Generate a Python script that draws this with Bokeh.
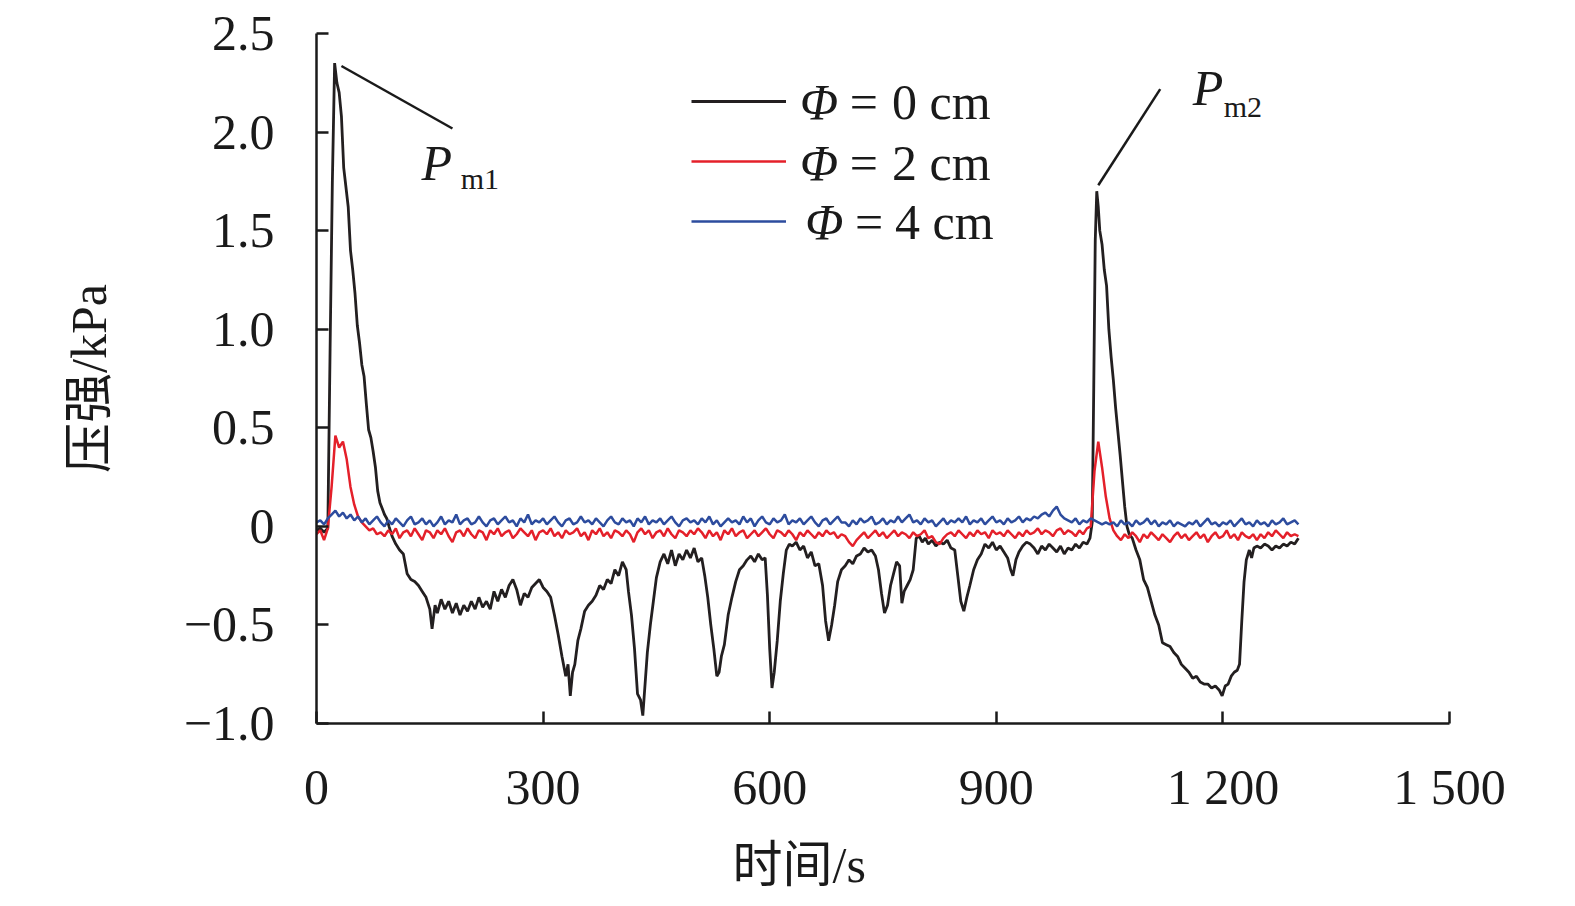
import math
from bokeh.plotting import figure
from bokeh.models import Range1d, FixedTicker, Label, Arrow, Legend, LegendItem, Title
from bokeh.embed import file_html
from bokeh.resources import INLINE

# ---------------- data ----------------
x_ticks = [0, 300, 600, 900, 1200, 1500]
x_tick_labels = ["0", "300", "600", "900", "1 200", "1 500"]
y_ticks = [-1.0, -0.5, 0.0, 0.5, 1.0, 1.5, 2.0, 2.5]
y_tick_labels = ["\u22121.0", "\u22120.5", "0", "0.5", "1.0", "1.5", "2.0", "2.5"]

black_t = [
    0, 5, 10, 15, 18, 21, 24, 27, 30, 33,
    36, 39, 42, 45, 48, 51, 54, 57, 60, 63,
    66, 69, 72, 75, 78, 81, 84, 87, 90, 93,
    96, 100, 105, 110, 115, 120, 125, 130, 135, 140,
    145, 150, 153, 157, 160, 165, 170, 175, 180, 185,
    190, 195, 200, 205, 210, 215, 220, 225, 230, 235,
    240, 245, 250, 255, 260, 265, 270, 275, 280, 285,
    290, 295, 300, 305, 310, 315, 320, 325, 330, 333,
    336, 339, 342, 346, 350, 355, 360, 365, 370, 375,
    380, 385, 390, 395, 400, 405, 410, 413, 417, 421,
    425, 429, 432, 435, 438, 442, 446, 450, 455, 460,
    465, 470, 475, 480, 485, 490, 495, 500, 505, 510,
    514, 518, 522, 526, 530, 533, 536, 540, 545, 550,
    555, 560, 565, 570, 575, 580, 585, 590, 594, 597,
    600, 603, 606, 610, 614, 618, 622, 626, 630, 635,
    640, 645, 650, 655, 660, 665, 670, 674, 678, 682,
    686, 690, 695, 700, 705, 710, 715, 720, 725, 730,
    735, 740, 744, 748, 752, 756, 760, 764, 768, 772,
    775, 778, 782, 786, 790, 794, 798, 802, 806, 810,
    815, 820, 825, 830, 835, 840, 845, 849, 853, 857,
    861, 865, 870, 875, 880, 885, 890, 895, 900, 905,
    910, 915, 919, 922, 926, 930, 935, 940, 945, 950,
    955, 960, 965, 970, 975, 980, 985, 990, 995, 1000,
    1005, 1010, 1015, 1020, 1024, 1027, 1029, 1031, 1033, 1035,
    1037, 1040, 1043, 1046, 1049, 1052, 1055, 1058, 1061, 1064,
    1067, 1070, 1073, 1076, 1080, 1085, 1090, 1095, 1100, 1105,
    1110, 1115, 1120, 1125, 1130, 1135, 1140, 1145, 1150, 1155,
    1160, 1165, 1170, 1175, 1180, 1185, 1190, 1195, 1199, 1203,
    1207, 1211, 1215, 1219, 1222, 1225, 1228, 1231, 1235, 1238,
    1241, 1245, 1250, 1255, 1260, 1265, 1270, 1275, 1280, 1285,
    1290, 1295, 1300,
]
black_v = [
    -0.02, -0.01, -0.03, -0.01, 0.90, 1.75, 2.35, 2.25, 2.20, 2.08,
    1.82, 1.72, 1.62, 1.40, 1.30, 1.18, 1.02, 0.93, 0.82, 0.76,
    0.62, 0.49, 0.45, 0.38, 0.30, 0.18, 0.12, 0.09, 0.06, 0.04,
    0.00, -0.05, -0.09, -0.12, -0.14, -0.24, -0.27, -0.28, -0.30, -0.33,
    -0.36, -0.42, -0.52, -0.40, -0.44, -0.37, -0.42, -0.38, -0.44, -0.39,
    -0.45, -0.40, -0.43, -0.38, -0.42, -0.36, -0.41, -0.38, -0.42, -0.33,
    -0.38, -0.32, -0.36, -0.30, -0.27, -0.32, -0.40, -0.34, -0.36, -0.31,
    -0.29, -0.27, -0.31, -0.33, -0.36, -0.45, -0.55, -0.66, -0.76, -0.70,
    -0.86, -0.74, -0.70, -0.58, -0.52, -0.43, -0.40, -0.38, -0.35, -0.30,
    -0.32, -0.27, -0.29, -0.22, -0.25, -0.18, -0.22, -0.33, -0.45, -0.62,
    -0.85, -0.88, -0.96, -0.80, -0.64, -0.50, -0.38, -0.26, -0.18, -0.14,
    -0.19, -0.12, -0.20, -0.14, -0.17, -0.12, -0.16, -0.11, -0.18, -0.16,
    -0.25, -0.36, -0.50, -0.62, -0.76, -0.74, -0.66, -0.60, -0.45, -0.36,
    -0.28, -0.22, -0.20, -0.17, -0.15, -0.18, -0.14, -0.17, -0.16, -0.35,
    -0.62, -0.82, -0.74, -0.58, -0.38, -0.24, -0.12, -0.09, -0.10, -0.08,
    -0.12, -0.10, -0.16, -0.13, -0.20, -0.19, -0.30, -0.48, -0.58, -0.50,
    -0.40, -0.28, -0.22, -0.20, -0.17, -0.19, -0.15, -0.14, -0.11, -0.13,
    -0.12, -0.15, -0.22, -0.34, -0.44, -0.40, -0.30, -0.24, -0.18, -0.20,
    -0.39, -0.33, -0.30, -0.27, -0.22, -0.06, -0.05, -0.08, -0.06, -0.09,
    -0.07, -0.10, -0.08, -0.09, -0.07, -0.11, -0.12, -0.25, -0.38, -0.43,
    -0.36, -0.30, -0.22, -0.17, -0.14, -0.09, -0.11, -0.08, -0.12, -0.10,
    -0.13, -0.16, -0.22, -0.25, -0.17, -0.13, -0.10, -0.08, -0.09, -0.11,
    -0.14, -0.10, -0.12, -0.09, -0.11, -0.13, -0.10, -0.14, -0.11, -0.12,
    -0.09, -0.11, -0.08, -0.09, -0.06, 0.02, 0.70, 1.45, 1.70, 1.62,
    1.50, 1.43, 1.30, 1.22, 1.00, 0.86, 0.74, 0.60, 0.48, 0.36,
    0.23, 0.10, 0.00, -0.04, -0.06, -0.12, -0.17, -0.27, -0.31, -0.38,
    -0.45, -0.50, -0.59, -0.60, -0.61, -0.64, -0.66, -0.70, -0.72, -0.74,
    -0.77, -0.76, -0.79, -0.80, -0.80, -0.82, -0.81, -0.83, -0.86, -0.81,
    -0.80, -0.76, -0.74, -0.73, -0.70, -0.48, -0.28, -0.17, -0.12, -0.16,
    -0.11, -0.10, -0.11, -0.09, -0.10, -0.12, -0.10, -0.11, -0.09, -0.10,
    -0.08, -0.09, -0.06,
]

# red (Phi = 2 cm) and blue (Phi = 4 cm): sampled every 5 s from 0 to 1300 s
red_v = [
    -0.04, -0.02, -0.07, -0.01, 0.20, 0.46, 0.40, 0.43, 0.34, 0.20,
    0.11, 0.05, 0.02, 0.00, -0.02, -0.01, -0.04, -0.03, -0.05, -0.02,
    -0.04, -0.01, -0.06, -0.03, -0.02, -0.05, -0.01, -0.04, -0.07, -0.02,
    -0.03, -0.06, -0.02, -0.04, -0.01, -0.05, -0.08, -0.03, -0.02, -0.05,
    -0.01, -0.04, -0.06, -0.02, -0.03, -0.07, -0.02, -0.04, -0.01, -0.05,
    -0.03, -0.02, -0.06, -0.04, -0.01, -0.03, -0.05, -0.02, -0.07, -0.03,
    -0.02, -0.04, -0.01, -0.05, -0.03, -0.06, -0.02, -0.04, -0.03, -0.01,
    -0.05, -0.03, -0.07, -0.02, -0.04, -0.01, -0.05, -0.03, -0.06, -0.02,
    -0.03, -0.05, -0.02, -0.04, -0.08, -0.03, -0.01, -0.04, -0.02, -0.06,
    -0.03, -0.02, -0.05, -0.01, -0.04, -0.06, -0.02, -0.03, -0.05, -0.02,
    -0.04, -0.01, -0.03, -0.06, -0.02, -0.05, -0.03, -0.07, -0.02, -0.04,
    -0.01, -0.05, -0.03, -0.02, -0.06, -0.04, -0.02, -0.05, -0.03, -0.01,
    -0.04, -0.06, -0.02, -0.03, -0.05, -0.02, -0.04, -0.07, -0.03, -0.05,
    -0.02, -0.04, -0.06, -0.03, -0.05, -0.02, -0.04, -0.03, -0.06, -0.04,
    -0.05, -0.08, -0.10, -0.07, -0.05, -0.03, -0.06, -0.04, -0.02, -0.05,
    -0.03, -0.06, -0.04, -0.02, -0.05, -0.03, -0.04, -0.06, -0.03, -0.05,
    -0.04, -0.02, -0.06, -0.05, -0.08, -0.09, -0.06, -0.04, -0.03, -0.05,
    -0.02, -0.04, -0.06, -0.03, -0.05, -0.02, -0.04, -0.03, -0.06, -0.02,
    -0.04, -0.03, -0.05, -0.02, -0.04, -0.06, -0.03, -0.05, -0.02, -0.04,
    -0.03, -0.01, -0.04, -0.02, -0.03, -0.05, -0.02, -0.01, -0.04, -0.02,
    -0.03, -0.05, -0.02, -0.04, -0.01, 0.00, 0.28, 0.43, 0.30, 0.15,
    0.04, -0.02, -0.05, -0.07, -0.04, -0.06, -0.03, -0.05, -0.08, -0.04,
    -0.06, -0.03, -0.05, -0.07, -0.04, -0.06, -0.08, -0.05, -0.03, -0.06,
    -0.04, -0.07, -0.05, -0.03, -0.06, -0.04, -0.08, -0.05, -0.03, -0.06,
    -0.05, -0.02, -0.06, -0.04, -0.07, -0.03, -0.05, -0.06, -0.04, -0.07,
    -0.04, -0.06, -0.03, -0.05, -0.02, -0.04, -0.06, -0.03, -0.05, -0.04,
    -0.05,
]
blue_v = [
    0.02, 0.03, 0.01, 0.04, 0.06, 0.08, 0.05, 0.07, 0.04, 0.06,
    0.03, 0.05, 0.02, 0.04, 0.01, 0.03, 0.05, 0.02, 0.00, 0.03,
    0.01, 0.04, 0.02, 0.00, 0.03, 0.05, 0.01, 0.02, 0.04, 0.01,
    0.03, 0.00, 0.02, 0.05, 0.01, 0.03, 0.02, 0.06, 0.01, 0.03,
    0.04, 0.01, 0.02, 0.05, 0.02, 0.00, 0.03, 0.04, 0.01, 0.03,
    0.05, 0.02, 0.03, 0.00, 0.04, 0.02, 0.06, 0.01, 0.03, 0.02,
    0.04, 0.01, 0.03, 0.05, 0.02, 0.00, 0.03, 0.04, 0.01, 0.02,
    0.05, 0.02, 0.03, 0.01, 0.04, 0.02, 0.00, 0.03, 0.05, 0.02,
    0.01, 0.04, 0.02, 0.03, 0.00, 0.04, 0.02, 0.05, 0.01, 0.03,
    0.02, 0.04, 0.01, 0.03, 0.05, 0.02, 0.00, 0.03, 0.04, 0.02,
    0.03, 0.01, 0.04, 0.02, 0.05, 0.01, 0.03, 0.00, 0.02, 0.04,
    0.02, 0.03, 0.01, 0.05, 0.02, 0.04, 0.00, 0.03, 0.05, 0.02,
    0.01, 0.04, 0.02, 0.03, 0.06, 0.01, 0.03, 0.02, 0.04, 0.01,
    0.03, 0.05, 0.02, 0.00, 0.03, 0.04, 0.01, 0.03, 0.05, 0.02,
    0.02, 0.00, 0.03, 0.01, 0.04, 0.02, 0.03, 0.05, 0.01, 0.02,
    0.04, 0.01, 0.03, 0.02, 0.05, 0.02, 0.04, 0.06, 0.02, 0.03,
    0.01, 0.04, 0.02, 0.03, 0.00, 0.02, 0.04, 0.01, 0.03, 0.02,
    0.04, 0.02, 0.05, 0.01, 0.03, 0.02, 0.04, 0.01, 0.03, 0.05,
    0.02, 0.03, 0.01, 0.04, 0.02, 0.03, 0.05, 0.02, 0.04, 0.03,
    0.05, 0.04, 0.06, 0.07, 0.05, 0.08, 0.10, 0.06, 0.04, 0.03,
    0.02, 0.04, 0.01, 0.03, 0.02, 0.04, 0.03, 0.02, 0.01, 0.02,
    0.01, 0.02, 0.00, 0.03, 0.01, 0.02, 0.00, 0.03, 0.01, 0.02,
    0.04, 0.01, 0.03, 0.00, 0.02, 0.01, 0.03, 0.00, 0.02, 0.01,
    0.00, 0.02, 0.01, 0.03, 0.00, 0.02, 0.04, 0.01, 0.02, 0.00,
    0.02, 0.01, 0.03, 0.00, 0.02, 0.04, 0.01, 0.02, 0.00, 0.03,
    0.01, 0.02, 0.00, 0.03, 0.01, 0.02, 0.04, 0.01, 0.02, 0.03,
    0.01,
]
sample_step = 5
red_t = [i * sample_step for i in range(len(red_v))]
blue_t = [i * sample_step for i in range(len(blue_v))]

# ---------------- styling ----------------
SERIF = "Liberation Serif, Noto Sans CJK SC"
CJK = "Liberation Serif, Noto Sans CJK SC"
INK = "#1a1a1a"
BLACK = "#231f20"
RED = "#e4202a"
BLUE = "#2d4c9e"

p = figure(
    frame_width=1133, frame_height=690,
    min_border_left=316, min_border_right=108,
    min_border_top=33, min_border_bottom=160,
    x_range=Range1d(0, 1500), y_range=Range1d(-1.0, 2.5),
    output_backend="svg", toolbar_location=None,
)
p.outline_line_color = None
p.grid.visible = False
p.background_fill_color = "white"
p.border_fill_color = "white"

n_b = min(len(black_t), len(black_v))
r_black = p.line(black_t[:n_b], black_v[:n_b], line_color=BLACK, line_width=2.8)
r_red = p.line(red_t, red_v, line_color=RED, line_width=2.5)
r_blue = p.line(blue_t, blue_v, line_color=BLUE, line_width=2.5)

for ax in (p.xaxis[0], p.yaxis[0]):
    ax.axis_line_width = 2.5
    ax.axis_line_color = INK
    ax.major_tick_line_width = 2.5
    ax.major_tick_line_color = INK
    ax.major_tick_in = 12
    ax.major_tick_out = 0
    ax.minor_tick_in = 0
    ax.minor_tick_out = 0
    ax.major_label_text_font = SERIF
    ax.major_label_text_font_size = "50px"
    ax.major_label_text_color = INK

p.xaxis.ticker = FixedTicker(ticks=x_ticks)
p.xaxis.major_label_overrides = {t: s for t, s in zip(x_ticks, x_tick_labels)}
p.xaxis.major_label_standoff = 35
p.yaxis.ticker = FixedTicker(ticks=y_ticks)
p.yaxis.major_label_overrides = {t: s for t, s in zip(y_ticks, y_tick_labels)}
p.yaxis.major_label_standoff = 42

# axis titles
p.yaxis.axis_label = "压强/kPa"
p.yaxis.axis_label_text_font = CJK
p.yaxis.axis_label_text_font_size = "50px"
p.yaxis.axis_label_text_font_style = "normal"
p.yaxis.axis_label_text_color = INK
p.yaxis.axis_label_standoff = 64

p.add_layout(Title(text="时间/s", align="left", offset=416, standoff=34,
                   text_font=CJK, text_font_size="50px", text_font_style="normal",
                   text_color=INK), "below")

# legend (sample lines) + texts
legend = Legend(
    items=[LegendItem(label=" ", renderers=[r]) for r in (r_black, r_red, r_blue)],
    location=(375, 472),
    glyph_width=95, glyph_height=60, label_height=60, label_width=0,
    label_standoff=0, spacing=0, padding=0, margin=0,
    border_line_color=None, background_fill_alpha=0,
    label_text_font_size="10px",
)
p.add_layout(legend, "center")

legend_rows_y = [2.151, 1.845, 1.544]
legend_phi_x = [640, 640, 647]
legend_eq_x = [706, 706, 713]
legend_val_x = [762, 762, 766]
legend_rest = ["0 cm", "2 cm", "4 cm"]
for yy, xp, xe, xv, rest in zip(legend_rows_y, legend_phi_x, legend_eq_x, legend_val_x, legend_rest):
    p.add_layout(Label(x=xp, y=yy, text="\u03a6", text_font=SERIF, text_font_style="italic",
                       text_font_size="50px", text_baseline="middle", text_color=INK))
    p.add_layout(Label(x=xe, y=yy, text="=", text_font=SERIF,
                       text_font_size="50px", text_baseline="middle", text_color=INK))
    p.add_layout(Label(x=xv, y=yy, text=rest, text_font=SERIF,
                       text_font_size="50px", text_baseline="middle", text_color=INK))

# peak annotations
p.add_layout(Arrow(end=None, x_start=33, y_start=2.335, x_end=180, y_end=2.018,
                   line_width=2.5, line_color=INK))
p.add_layout(Arrow(end=None, x_start=1035, y_start=1.73, x_end=1117, y_end=2.218,
                   line_width=2.5, line_color=INK))
p.add_layout(Label(x=139, y=1.845, text="P", text_font=SERIF, text_font_style="italic",
                   text_font_size="50px", text_baseline="alphabetic", text_color=INK))
p.add_layout(Label(x=191, y=1.765, text="m1", text_font=SERIF,
                   text_font_size="30px", text_baseline="alphabetic", text_color=INK))
p.add_layout(Label(x=1160, y=2.223, text="P", text_font=SERIF, text_font_style="italic",
                   text_font_size="50px", text_baseline="alphabetic", text_color=INK))
p.add_layout(Label(x=1201, y=2.13, text="m2", text_font=SERIF,
                   text_font_size="30px", text_baseline="alphabetic", text_color=INK))

open("out.html", "w").write(file_html(p, INLINE))
